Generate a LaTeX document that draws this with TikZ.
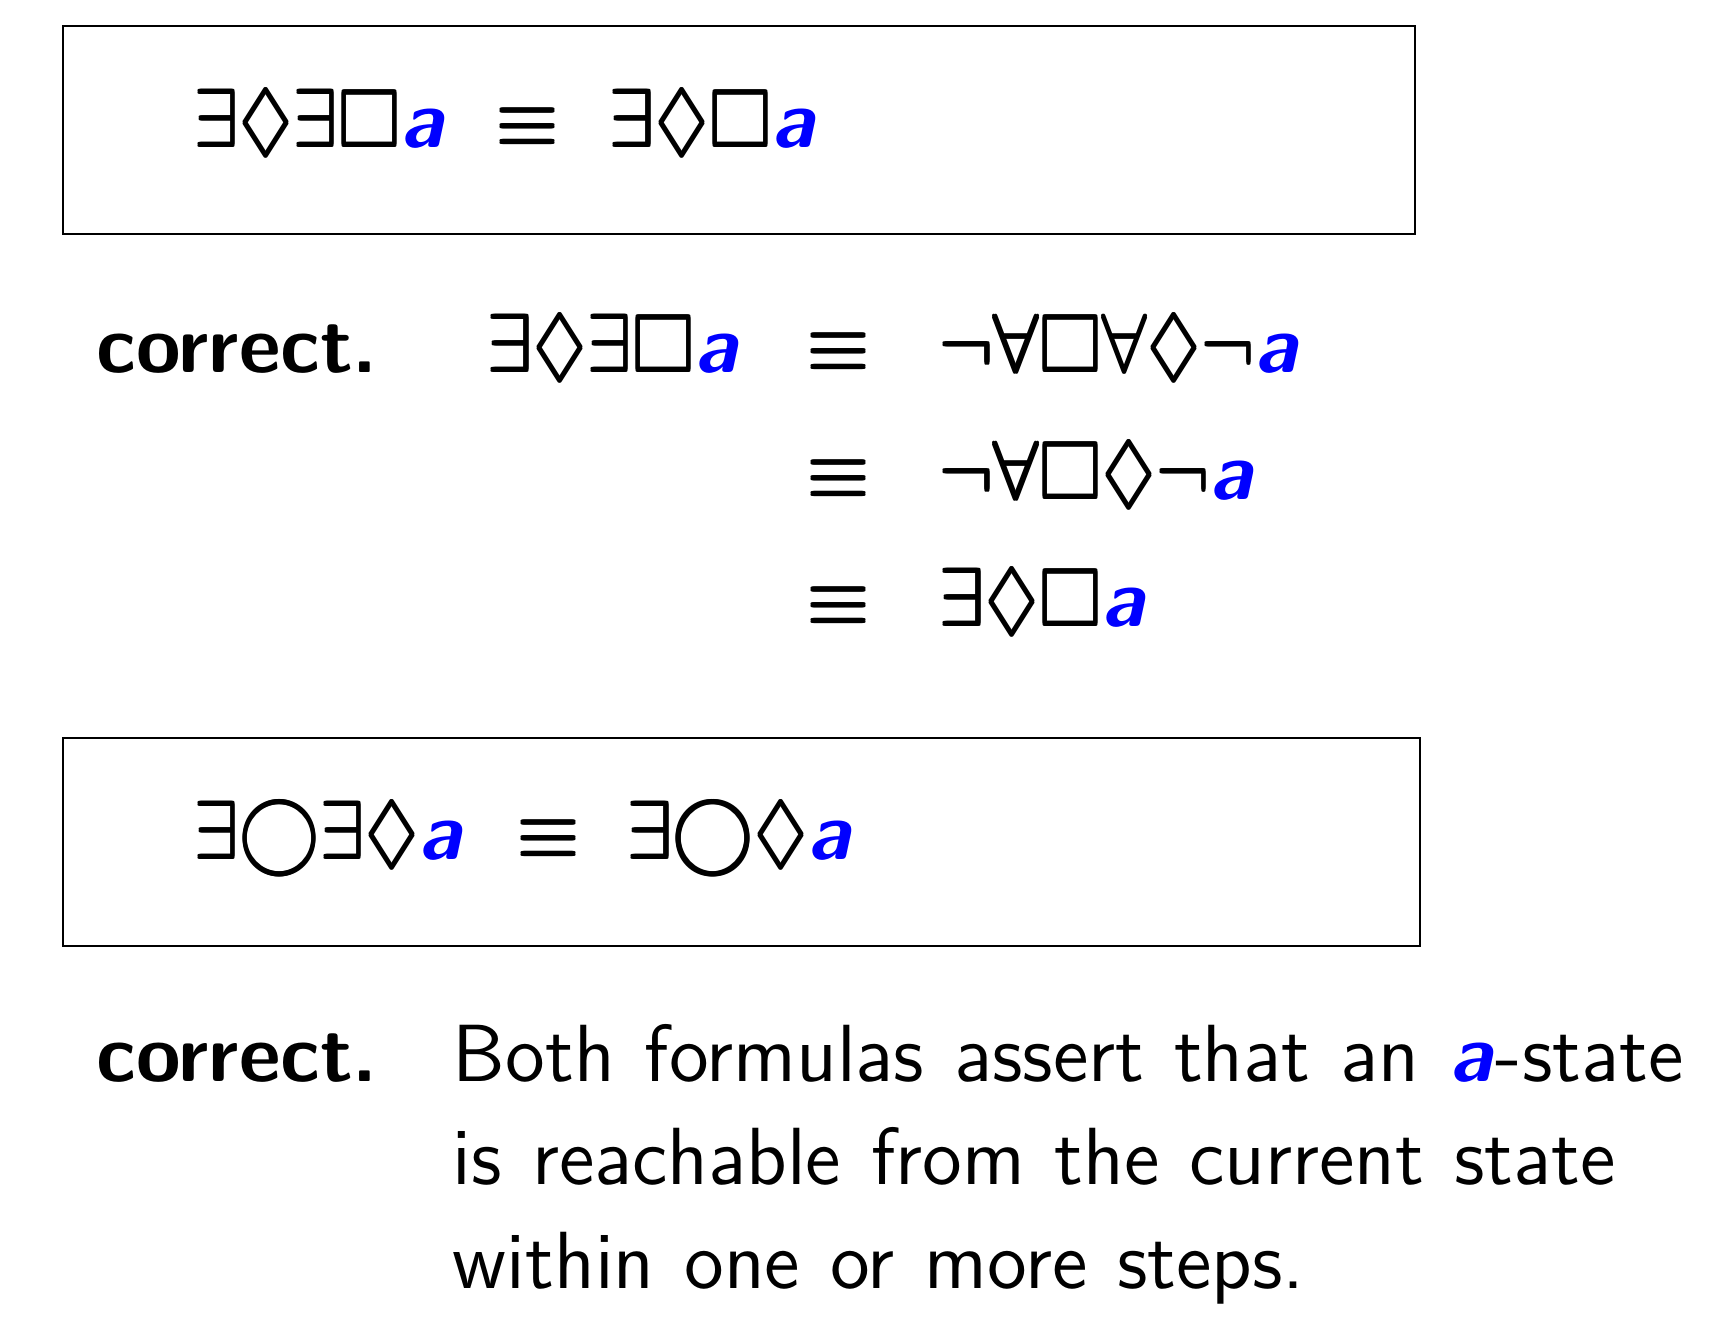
\documentclass[tikz,border=0pt]{standalone}
\usepackage{amssymb}
\usepackage{xcolor}
\newcommand{\aprop}{\textcolor{blue}{\textbf{\textit{a}}}}
\newcommand{\heavy}[1]{\leavevmode\rlap{\kern0.22pt#1}\rlap{\raisebox{0.22pt}{#1}}\rlap{\kern0.22pt\raisebox{0.22pt}{#1}}#1}
\newcommand{\widesp}{\spaceskip=4.45pt\relax}
\begin{document}
\begin{tikzpicture}[x=0.148pt,y=-0.148pt,
  every node/.style={inner sep=0pt,outer sep=0pt,font=\fontsize{12}{15}\selectfont\sffamily},
  frm/.style={anchor=base west},
  eqv/.style={anchor=base},
  txt/.style={anchor=base west},
  lbl/.style={anchor=base west,font=\fontsize{12}{15}\selectfont\sffamily\bfseries},
  boxed/.style={draw=black,line width=0.4pt}]
\useasboundingbox (0,0) rectangle (1726,1330);
% box 1
\draw[boxed] (63,26) rectangle (1415,234);
\node[frm] (b1l) at (193,147) {\heavy{$\exists\Diamond\exists\Box$}\aprop};
\node[eqv] (b1e) at (527,147) {\heavy{$\equiv$}};
\node[frm] (b1r) at (609,147) {\heavy{$\exists\Diamond\Box$}\aprop};
% derivation
\node[lbl] (c1) at (97,372) {correct.};
\node[frm] (r1l) at (487,372) {\heavy{$\exists\Diamond\exists\Box$}\aprop};
\node[eqv] (r1e) at (838,372) {\heavy{$\equiv$}};
\node[frm] (r1r) at (939,372) {\heavy{$\neg\forall\Box\forall\Diamond\neg$}\aprop};
\node[eqv] (r2e) at (838,499) {\heavy{$\equiv$}};
\node[frm] (r2r) at (939,499) {\heavy{$\neg\forall\Box\Diamond\neg$}\aprop};
\node[eqv] (r3e) at (838,626) {\heavy{$\equiv$}};
\node[frm] (r3r) at (939,626) {\heavy{$\exists\Diamond\Box$}\aprop};
% box 2
\draw[boxed] (63,738) rectangle (1420,946);
\node[frm] (b2l) at (193,859) {\heavy{$\exists\mathord{\bigcirc}\exists\Diamond$}\aprop};
\node[eqv] (b2e) at (548,859) {\heavy{$\equiv$}};
\node[frm] (b2r) at (627,859) {\heavy{$\exists\mathord{\bigcirc}\Diamond$}\aprop};
% answer
\node[lbl] (c2) at (97,1081) {correct.};
\node[txt] (ans1) at (453,1081) {\widesp Both formulas assert that an \aprop-state};
\node[txt] (ans2) at (453,1184) {\widesp is reachable from the current state};
\node[txt] (ans3) at (453,1288) {\widesp within one or more steps.};
\end{tikzpicture}
\end{document}
